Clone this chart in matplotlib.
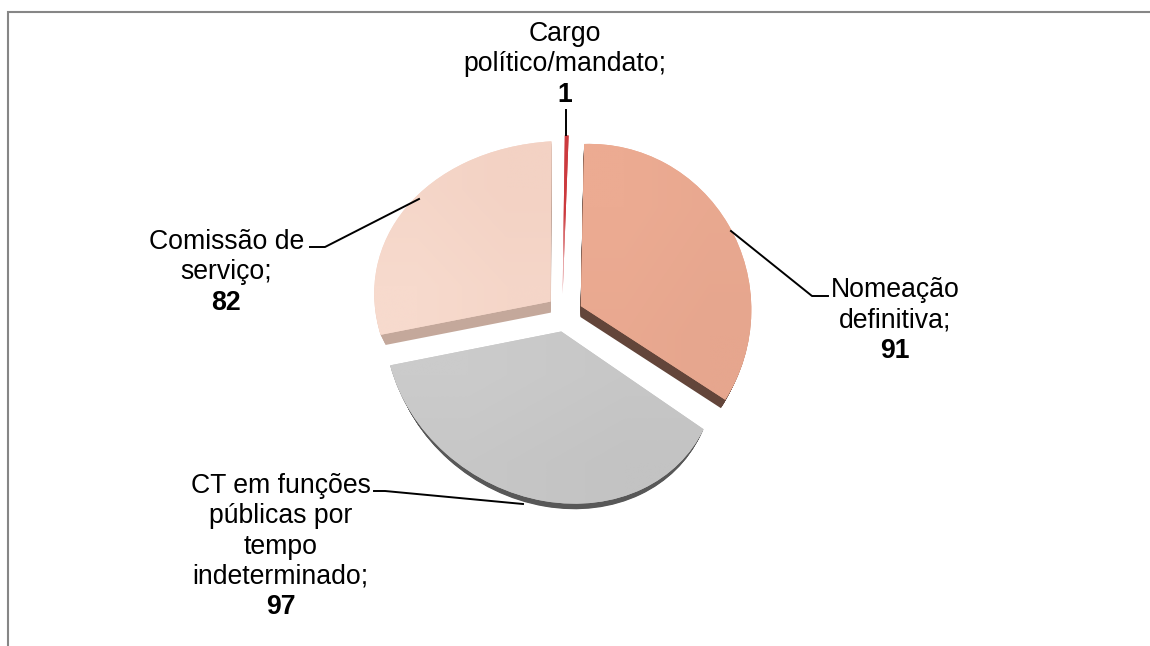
import numpy as np
import matplotlib
matplotlib.use("Agg")
import matplotlib.pyplot as plt
from matplotlib.transforms import Transform
from matplotlib.colors import to_rgb

labels = ["Cargo\npolítico/mandato;", "Nomeação\ndefinitiva;", "CT em funções\npúblicas por\ntempo\nindeterminado;", "Comissão de\nserviço;"]
values = [1, 91, 97, 82]
face_left = ["#cc3a3e", "#ecab92", "#cbcbcb", "#f7dacd"]
face_right = ["#cc3a3e", "#e6a68e", "#c3c3c3", "#f3d2c4"]
side_colors = ["#7a2a2a", "#63453a", "#585858", "#c4a89b"]
EXPLODE = 0.1

plt.rcParams["font.family"] = ["Liberation Sans", "DejaVu Sans"]
W, H = 1150, 646
fig = plt.figure(figsize=(W / 100, H / 100), dpi=100)
ax = fig.add_axes([0, 0, 1, 1])

# pie plane -> picture pixels, calibrated homographies (perspective of the 3-D pie)
total = sum(values)
edges = np.cumsum([0] + values) / total * 360
mids = (edges[:-1] + edges[1:]) / 2
def P(i, th=None):
    m = np.radians(mids[i])
    q = np.array([np.sin(m), np.cos(m)]) * EXPLODE
    if th is not None:
        q = q + [np.sin(np.radians(th)), np.cos(np.radians(th))]
    return q
# (slice, pie-plane point, picture point, weight)
calib = [
    (0, P(0, mids[0]), (566, 135), 1),
    (1, P(1), (581, 306), 4), (1, P(1, edges[1]), (584, 144), 4), (1, P(1, edges[2]), (725, 400), 4), (1, P(1, 90), (753, 300), 1),
    (1, P(1, 62.7), (731, 231), 1),
    (2, P(2), (561, 332), 4), (2, P(2, edges[2]), (704, 429), 4), (2, P(2, edges[3]), (390, 364), 4), (2, P(2, 180), (562, 503), 1),
    (2, P(2, 238), (413, 423), 1), (2, P(2, 141), (670, 467), 1),
    (3, P(3), (551, 302), 4), (3, P(3, edges[3]), (380, 334), 4), (3, P(3, 360), (551, 141), 4), (3, P(3, 270), (378, 300), 1),
    (3, P(3, 310), (419, 199), 1),
]
def fit(own):
    A, b = [], []
    for i, (x, y), (u, v), pw in calib:
        wt = 1.0 if own is None else (20.0 * pw if i == own else 1.0)
        A.append(np.array([x, y, 1, 0, 0, 0, -u * x, -u * y]) * wt); b.append(u * wt)
        A.append(np.array([0, 0, 0, x, y, 1, -v * x, -v * y]) * wt); b.append(v * wt)
    h = np.linalg.lstsq(np.array(A, float), np.array(b, float), rcond=None)[0]
    return np.array([[h[0], h[1], h[2]], [h[3], h[4], h[5]], [h[6], h[7], 1.0]])
HMS = [fit(None), fit(1), fit(2), fit(3)]

class Persp(Transform):
    input_dims = output_dims = 2
    is_affine = False
    has_inverse = False
    def __init__(self, hm, f=0.0):
        super().__init__()
        self.hm = hm
        self.f = f
    def transform_non_affine(self, pts):
        pts = np.asarray(pts, float)
        q = np.column_stack([pts, np.ones(len(pts))]) @ self.hm.T
        xy = q[:, :2] / q[:, 2:3]
        # depth of the pie: shrink towards a vanishing point below the pie
        return xy + (np.array([565.0, 710.0]) - xy) * self.f

expl = [EXPLODE] * len(values)
def draw_pie(colors, f, z):
    wedges, _ = ax.pie(values, explode=expl, colors=colors, startangle=90, counterclock=False,
                       radius=1.0, wedgeprops=dict(linewidth=0.6, edgecolor="none"))
    for i, w in enumerate(wedges):
        w.set_transform(Persp(HMS[i], f) + ax.transData)
        w.set_zorder(z)
    return wedges

for k, f in enumerate(np.linspace(0.027, 0.002, 10)):
    wd = draw_pie(side_colors, f, 1 + k * 0.01)
    wd[0].set_visible(False)
faces = draw_pie(face_left, 0.0, 2)
ax.set_aspect("auto")
ax.set_xlim(0, W)
ax.set_ylim(H, 0)
ax.axis("off")

for i, w in enumerate(faces):
    path = w.get_path()
    pts = Persp(HMS[i], 0.0).transform(path.vertices)
    x0, x1, y0, y1 = pts[:, 0].min(), pts[:, 0].max(), pts[:, 1].min(), pts[:, 1].max()
    c1, c2 = np.array(to_rgb(face_left[i])), np.array(to_rgb(face_right[i]))
    mid = (c1 + c2) / 2
    if i == 0:
        img = np.array([[c1], [c1], [c1 * 0.3 + 0.7]])
    elif i == 3:
        img = np.array([[mid, c2], [c1, mid]])
    else:
        img = np.array([[c1, mid], [mid, c2]])
    im = ax.imshow(img, extent=(x0, x1, y1, y0), aspect="auto", interpolation="bilinear", zorder=2.5)
    im.set_clip_path(w)
    w.set_facecolor(mid)
ax.set_xlim(0, W)
ax.set_ylim(H, 0)

# frame
ax.plot([8, 8, W], [H, 12, 12], color="#868686", lw=1.5, zorder=0, solid_joinstyle="miter", clip_on=False)

# leaders
leaders = [[(566, 110), (566, 135)], [(731, 231), (812, 296), (828, 296)],
           [(374, 491), (385, 491), (523, 504)], [(310, 247), (325, 247), (419, 199)]]
for L in leaders:
    ax.plot(*zip(*L), color="black", lw=1.4, zorder=3)

# labels
FS = 19.2
anchors = [(565, 41), (895, 297), (280.5, 493), (226.5, 249)]
LH = 30.3
for lab, val, (cx, y) in zip(labels, values, anchors):
    lines = lab.split("\n")
    for j, t in enumerate(lines):
        ax.text(cx, y + j * LH, t, ha="center", va="baseline", fontsize=FS, color="black", zorder=4)
    ax.text(cx, y + len(lines) * LH, str(val), ha="center", va="baseline", fontsize=FS, fontweight="bold", color="black", zorder=4)

fig.savefig("out.png", dpi=100, facecolor="white")
